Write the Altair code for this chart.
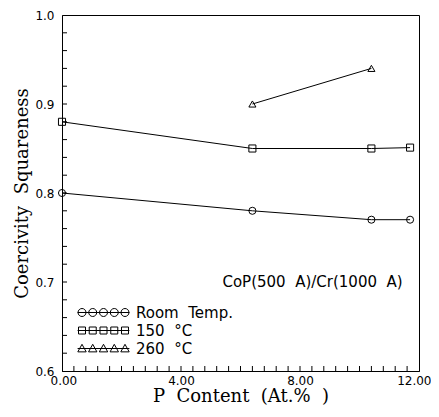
import altair as alt
import pandas as pd

# ---- data ----
series_names = ["Room\u00a0\u00a0Temp.", "150\u00a0\u00a0\u00b0C", "260\u00a0\u00a0\u00b0C"]
room_x = [0.0, 6.4, 10.4, 11.7]
room_y = [0.800, 0.780, 0.770, 0.770]
c150_x = [0.0, 6.4, 10.4, 11.7]
c150_y = [0.880, 0.850, 0.850, 0.851]
c260_x = [6.4, 10.4]
c260_y = [0.900, 0.940]

x_label_values = [0, 4, 8, 12]
y_label_values = [0.6, 0.7, 0.8, 0.9, 1.0]
x_tick_values = [0.4, 0.8, 1.2, 1.6, 2.0, 2.4, 2.8, 3.2, 3.6, 4.0, 4.4, 4.8, 5.2, 5.6,
                 6.0, 6.4, 6.8, 7.2, 7.6, 8.0, 8.4, 8.8, 9.2, 9.6, 10.0, 10.4, 10.8,
                 11.2, 11.6]
y_tick_values = [0.62, 0.64, 0.66, 0.68, 0.70, 0.72, 0.74, 0.76, 0.78, 0.80, 0.82,
                 0.84, 0.86, 0.88, 0.90, 0.92, 0.94, 0.96, 0.98]

annot_text = ["CoP(500\u00a0\u00a0A)/Cr(1000\u00a0\u00a0A)"]
annot_x = [11.45]
annot_y = [0.70]

x_title = "P\u00a0\u00a0Content\u00a0\u00a0(At.%\u00a0\u00a0)"
y_title = "Coercivity\u00a0\u00a0Squareness"

X_DOMAIN = [0, 12]
Y_DOMAIN = [0.6, 1.0]
W, H = 357, 356
TICK_LEN = 5
# half of the inward tick length expressed in data units of each axis
x_tick_half_units = (Y_DOMAIN[1] - Y_DOMAIN[0]) * TICK_LEN / 2 / H
y_tick_half_units = (X_DOMAIN[1] - X_DOMAIN[0]) * TICK_LEN / 2 / W

rows = []
for name, xs, ys in zip(series_names, [room_x, c150_x, c260_x], [room_y, c150_y, c260_y]):
    for xv, yv in zip(xs, ys):
        rows.append({"series": name, "p": xv, "sq": yv})
df = pd.DataFrame(rows)
annot_df = pd.DataFrame({"p": annot_x, "sq": annot_y, "label": annot_text})
xt_df = pd.DataFrame({"p": x_tick_values,
                      "sq": [Y_DOMAIN[0] + x_tick_half_units] * len(x_tick_values)})
yt_df = pd.DataFrame({"sq": y_tick_values,
                      "p": [X_DOMAIN[0] + y_tick_half_units] * len(y_tick_values)})


# legend symbols: five markers threaded on a line (custom SVG paths in unit coords)
def circle_row(centers, r):
    parts = ["M%.2f,0H%.2f" % (-3.7, 3.7)]
    for c in centers:
        parts.append("M%.3f,0a%.3f,%.3f 0 1,0 %.3f,0a%.3f,%.3f 0 1,0 %.3f,0"
                     % (c - r, r, r, 2 * r, r, r, -2 * r))
    return "".join(parts)


def square_row(centers, r):
    parts = ["M%.2f,0H%.2f" % (-3.7, 3.7)]
    for c in centers:
        parts.append("M%.3f,%.3fh%.3fv%.3fh%.3fz" % (c - r, -r, 2 * r, 2 * r, -2 * r))
    return "".join(parts)


def tri_row(centers, r):
    parts = ["M%.2f,0H%.2f" % (-3.7, 3.7)]
    for c in centers:
        parts.append("M%.3f,%.3fL%.3f,%.3fL%.3f,%.3fz" % (c, -r, c + r, r * 0.8, c - r, r * 0.8))
    return "".join(parts)


centers = [-3.07, -1.54, 0.0, 1.54, 3.07]
legend_paths = [circle_row(centers, 0.57), square_row(centers, 0.5), tri_row(centers, 0.6)]

LABEL_FONT = "DejaVu Sans"
TITLE_FONT = "DejaVu Serif"

x_scale = alt.Scale(domain=X_DOMAIN, nice=False, zero=False)
y_scale = alt.Scale(domain=Y_DOMAIN, nice=False, zero=False)

lines = alt.Chart(df).mark_line(color="black", strokeWidth=1).encode(
    x=alt.X("p:Q", scale=x_scale,
            axis=alt.Axis(values=x_label_values, format=".2f", tickSize=0, grid=False,
                          title=x_title, titleFont=TITLE_FONT, titleFontSize=18,
                          titleFontWeight="normal", titleColor="black", titlePadding=1,
                          labelFont=LABEL_FONT, labelFontSize=12, labelColor="black",
                          labelPadding=4, labelFlush=True, labelFlushOffset=12,
                          labelOverlap=False,
                          domainColor="black", domainWidth=1)),
    y=alt.Y("sq:Q", scale=y_scale,
            axis=alt.Axis(values=y_label_values, format=".1f", tickSize=0, grid=False,
                          title=y_title, titleFont=TITLE_FONT, titleFontSize=18,
                          titleFontWeight="normal", titleColor="black", titlePadding=3,
                          labelFont=LABEL_FONT, labelFontSize=12, labelColor="black",
                          labelPadding=8, labelFlush=False, labelOverlap=False,
                          domainColor="black", domainWidth=1)),
    detail="series:N",
)

points = alt.Chart(df).mark_point(filled=False, color="black", size=50, strokeWidth=1,
                                  opacity=1).encode(
    x=alt.X("p:Q", scale=x_scale),
    y=alt.Y("sq:Q", scale=y_scale),
    shape=alt.Shape("series:N",
                    scale=alt.Scale(domain=series_names,
                                    range=["circle", "square", "triangle-up"]),
                    legend=None),
)

# inward minor ticks drawn as short stroked symbols
x_ticks = alt.Chart(xt_df).mark_point(filled=False, color="black", strokeWidth=1,
                                      opacity=1, size=TICK_LEN * TICK_LEN,
                                      shape="M0,-1L0,1").encode(
    x=alt.X("p:Q", scale=x_scale),
    y=alt.Y("sq:Q", scale=y_scale),
)

y_ticks = alt.Chart(yt_df).mark_point(filled=False, color="black", strokeWidth=1,
                                      opacity=1, size=TICK_LEN * TICK_LEN,
                                      shape="M-1,0L1,0").encode(
    x=alt.X("p:Q", scale=x_scale),
    y=alt.Y("sq:Q", scale=y_scale),
)

legend_layer = alt.Chart(df).transform_filter("false").mark_point(
    filled=False, color="black", strokeWidth=1, opacity=1).encode(
    shape=alt.Shape("series:N",
                    scale=alt.Scale(domain=series_names, range=legend_paths),
                    legend=alt.Legend(title=None, orient="none", legendX=34, legendY=290,
                                      symbolSize=196, symbolStrokeWidth=1,
                                      symbolStrokeColor="black",
                                      labelFont=LABEL_FONT, labelFontSize=15,
                                      labelColor="black", labelOffset=25,
                                      rowPadding=2, padding=0)),
)

annot = alt.Chart(annot_df).mark_text(align="right", baseline="middle", font=LABEL_FONT,
                                      fontSize=15, color="black").encode(
    x=alt.X("p:Q", scale=x_scale),
    y=alt.Y("sq:Q", scale=y_scale),
    text="label:N",
)

chart = alt.layer(lines, points, x_ticks, y_ticks, legend_layer, annot).resolve_scale(
    shape="independent"
).properties(
    width=W, height=H,
    autosize=alt.AutoSizeParams(type="none"),
    padding={"left": 54, "top": 7, "right": 12, "bottom": 38},
    background="white",
).configure_view(stroke="black", strokeWidth=1)

chart.save("out.html", embed_options={"renderer": "svg", "actions": False})
